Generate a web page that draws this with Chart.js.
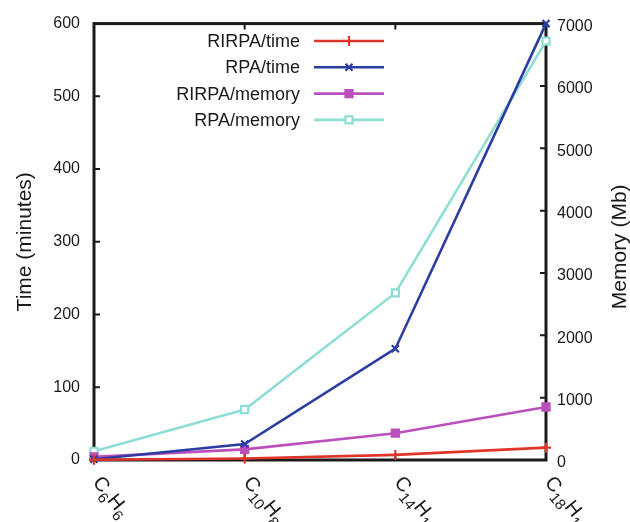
<!DOCTYPE html>
<html>
<head>
<meta charset="utf-8">
<script src="https://cdn.jsdelivr.net/npm/chart.js@4/dist/chart.umd.min.js"></script>
<style>
  html, body { margin: 0; padding: 0; background: #ffffff; }
  #wrap { width: 630px; height: 522px; }
</style>
</head>
<body>
<div id="wrap"><canvas id="c" width="630" height="522"></canvas></div>
<script>
// Molecules on the x axis (digits are drawn as subscripts)
const molecules = ['C6H6', 'C10H8', 'C14H10', 'C18H12'];

// Wall time in minutes (left axis)
const rirpaTime = [0.3, 2, 7, 17];
const rpaTime = [1, 22, 153, 600];

// Memory in Mb (right axis)
const rirpaMemory = [50, 170, 430, 850];
const rpaMemory = [140, 810, 2680, 6720];

// Axis ranges and tick steps
const timeRange = [0, 600];
const timeStep = 100;
const memoryRange = [0, 7000];
const memoryStep = 1000;

const FONT = '"Liberation Sans", Arial, Helvetica, sans-serif';
const INK = '#1a1a1a';

// Frame around the plot, inward tick marks and axis titles
const framePlugin = {
  id: 'frame',
  beforeDatasetsDraw(chart) {
    const { ctx, chartArea: a, scales } = chart;
    ctx.save();
    ctx.strokeStyle = INK;
    ctx.lineWidth = 2;
    const tl = 6;
    ctx.beginPath();
    scales.y.ticks.forEach(t => {
      const y = scales.y.getPixelForValue(t.value);
      ctx.moveTo(a.left, y); ctx.lineTo(a.left + tl, y);
    });
    scales.y1.ticks.forEach(t => {
      const y = scales.y1.getPixelForValue(t.value);
      ctx.moveTo(a.right, y); ctx.lineTo(a.right - tl, y);
    });
    scales.x.ticks.forEach((t, i) => {
      const x = scales.x.getPixelForTick(i);
      ctx.moveTo(x, a.top); ctx.lineTo(x, a.top + tl);
      ctx.moveTo(x, a.bottom); ctx.lineTo(x, a.bottom - tl);
    });
    ctx.stroke();
    ctx.lineWidth = 3;
    ctx.strokeRect(a.left, a.top, a.right - a.left, a.bottom - a.top);
    ctx.restore();
  },
  afterDraw(chart) {
    const { ctx, chartArea: a, scales } = chart;
    ctx.save();
    ctx.fillStyle = INK;
    ctx.textAlign = 'center';
    ctx.textBaseline = 'middle';
    ctx.font = '21px ' + FONT;
    const mid = (a.top + a.bottom) / 2;
    ctx.save();
    ctx.translate(25, mid);
    ctx.rotate(-Math.PI / 2);
    ctx.fillText('Time (minutes)', 0, 0);
    ctx.restore();
    ctx.save();
    ctx.translate(620, mid + 5);
    ctx.rotate(-Math.PI / 2);
    ctx.fillText('Memory (Mb)', 0, 0);
    ctx.restore();

    // Rotated molecule labels with subscript digits
    const angle = 51 * Math.PI / 180;
    scales.x.ticks.forEach((t, i) => {
      const label = chart.data.labels[i];
      const x = scales.x.getPixelForTick(i);
      ctx.save();
      ctx.translate(x + 9, a.bottom + 14);
      ctx.rotate(angle);
      ctx.textAlign = 'left';
      ctx.textBaseline = 'alphabetic';
      let cx = 0;
      const parts = label.match(/[A-Za-z]+|\d+/g);
      parts.forEach(p => {
        const sub = /\d/.test(p);
        ctx.font = (sub ? '15px ' : '20px ') + FONT;
        ctx.fillText(p, cx, sub ? 20 : 14);
        cx += ctx.measureText(p).width;
      });
      ctx.restore();
    });
    ctx.restore();
  }
};

// Key in the upper part of the plot: text right-aligned, then a line sample with its marker
const keyPlugin = {
  id: 'key',
  afterDatasetsDraw(chart) {
    const { ctx } = chart;
    const textRight = 300, lineStart = 314, lineEnd = 384;
    const rowTop = 41, rowGap = 26.3;
    ctx.save();
    chart.data.datasets.forEach((ds, i) => {
      const y = rowTop + i * rowGap;
      ctx.fillStyle = INK;
      ctx.font = '18px ' + FONT;
      ctx.textAlign = 'right';
      ctx.textBaseline = 'middle';
      ctx.fillText(ds.label, textRight, y + 1);
      ctx.strokeStyle = ds.borderColor;
      ctx.lineWidth = ds.borderWidth;
      ctx.beginPath();
      ctx.moveTo(lineStart, y); ctx.lineTo(lineEnd, y);
      ctx.stroke();
      ctx.fillStyle = ds.pointBackgroundColor;
      ctx.strokeStyle = ds.borderColor;
      ctx.lineWidth = ds.pointBorderWidth;
      Chart.helpers.drawPoint(ctx, { pointStyle: ds.pointStyle, radius: ds.pointRadius, rotation: 0, borderWidth: ds.pointBorderWidth }, (lineStart + lineEnd) / 2, y);
    });
    ctx.restore();
  }
};

function series(label, data, color, axis, style, fill) {
  return {
    label, data, yAxisID: axis,
    borderColor: color, borderWidth: 2.6,
    pointStyle: style, pointRadius: 5, pointHoverRadius: 5,
    pointBorderWidth: 2.2,
    pointBackgroundColor: fill ? color : '#ffffff',
    tension: 0, fill: false, clip: false
  };
}

new Chart(document.getElementById('c'), {
  type: 'line',
  data: {
    labels: molecules,
    datasets: [
      series('RIRPA/time', rirpaTime, '#e0352b', 'y', 'cross', true),
      series('RPA/time', rpaTime, '#2b3da0', 'y', 'crossRot', true),
      series('RIRPA/memory', rirpaMemory, '#bb4fbb', 'y1', 'rect', true),
      series('RPA/memory', rpaMemory, '#8fded6', 'y1', 'rect', false)
    ]
  },
  options: {
    responsive: false,
    animation: false,
    devicePixelRatio: 1,
    layout: { padding: { top: 22, left: 0, right: 0, bottom: 0 } },
    plugins: { legend: { display: false }, tooltip: { enabled: false } },
    scales: {
      x: {
        type: 'category', offset: false,
        grid: { display: false, drawTicks: false },
        border: { display: false },
        ticks: { display: false },
        afterFit: s => { s.height = 62; }
      },
      y: {
        position: 'left',
        min: timeRange[0], max: timeRange[1],
        grid: { display: false, drawTicks: false },
        border: { display: false },
        ticks: { stepSize: timeStep, padding: 14, color: INK, font: { size: 16, family: FONT },
                 callback: v => String(v) },
        afterFit: s => { s.width = 94; }
      },
      y1: {
        position: 'right',
        min: memoryRange[0], max: memoryRange[1],
        grid: { display: false, drawTicks: false },
        border: { display: false },
        ticks: { stepSize: memoryStep, padding: 11, labelOffset: 3, color: INK, font: { size: 16, family: FONT },
                 callback: v => String(v) },
        afterFit: s => { s.width = 84; }
      }
    }
  },
  plugins: [framePlugin, keyPlugin]
});
</script>
</body>
</html>
